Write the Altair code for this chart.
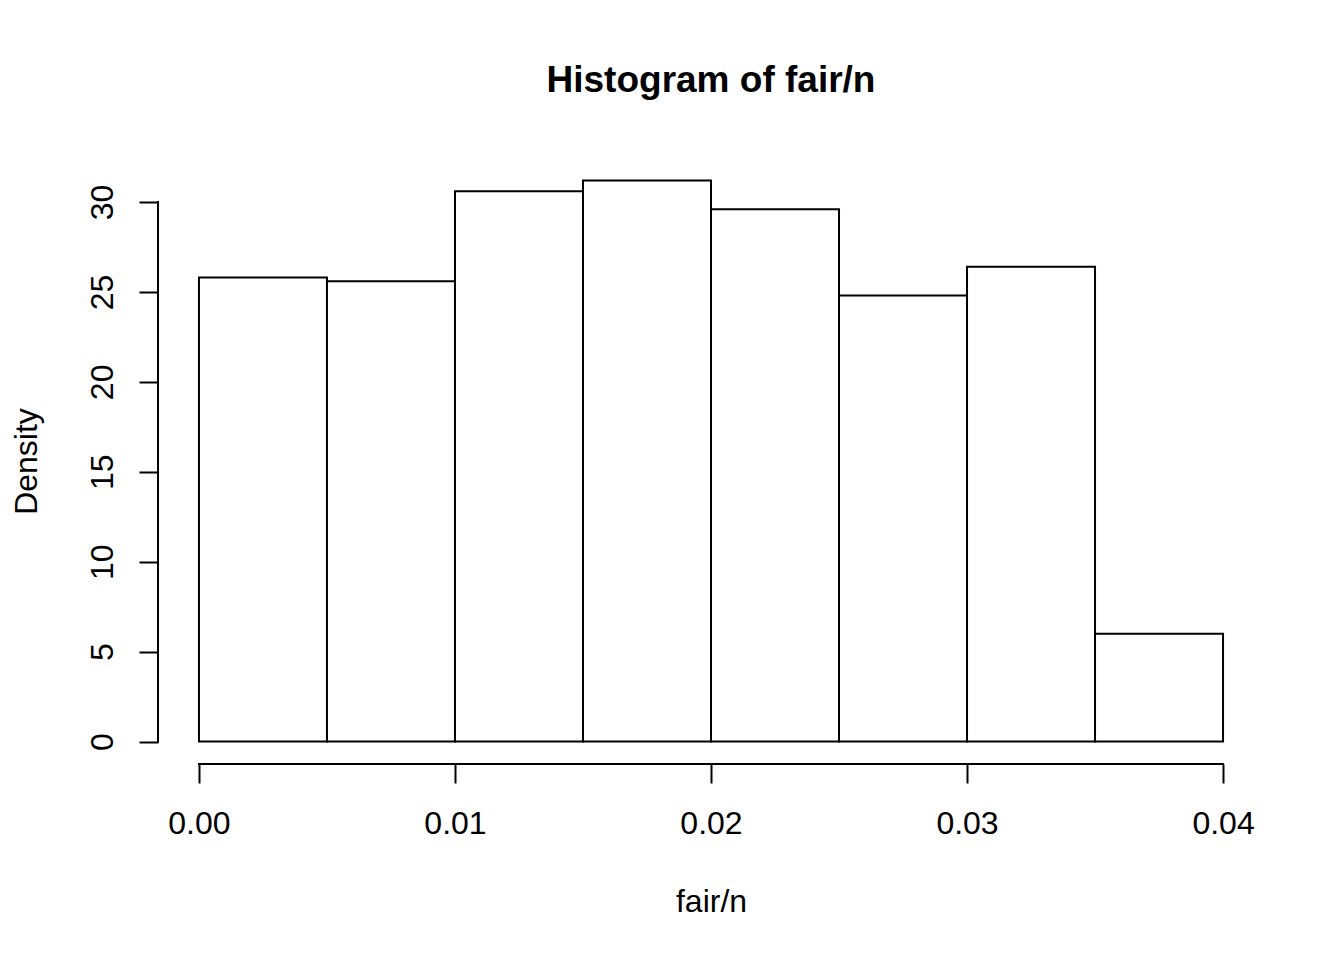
import altair as alt
import pandas as pd

bin_start = [0.000, 0.005, 0.010, 0.015, 0.020, 0.025, 0.030, 0.035]
bin_end = [0.005, 0.010, 0.015, 0.020, 0.025, 0.030, 0.035, 0.040]
density = [25.8, 25.6, 30.6, 31.2, 29.6, 24.8, 26.4, 6.0]
x_ticks = [0.00, 0.01, 0.02, 0.03, 0.04]
y_ticks = [0, 5, 10, 15, 20, 25, 30]

bars = pd.DataFrame({"start": bin_start, "end": bin_end, "density": density})
xaxis_df = pd.DataFrame({"x0": [x_ticks[0]], "x1": [x_ticks[-1]]})
yaxis_df = pd.DataFrame({"y0": [y_ticks[0]], "y1": [y_ticks[-1]]})

FONT = "Liberation Sans"
W, H = 1106, 606

xscale = alt.Scale(domain=[-0.0016, 0.0416], nice=False, zero=False)
ymax = max(density)
yscale = alt.Scale(domain=[-0.04 * ymax, ymax * 1.04], nice=False, zero=False)

xaxis = alt.Axis(
    values=x_ticks, format=".2f", domain=False, grid=False,
    tickSize=19, tickWidth=2, tickColor="black",
    labelFont=FONT, labelFontSize=32, labelColor="black",
    labelBaseline="alphabetic", labelPadding=50, labelFlush=False,
    title="fair/n", titleFont=FONT, titleFontSize=32, titleFontWeight="normal",
    titleColor="black", titleBaseline="alphabetic", titleX=W / 2, titleY=147,
    titleAlign="center",
)
yaxis = alt.Axis(
    values=y_ticks, domain=False, grid=False,
    tickSize=19, tickWidth=2, tickColor="black",
    labelFont=FONT, labelFontSize=32, labelColor="black",
    labelAngle=270, labelAlign="center", labelBaseline="alphabetic",
    labelPadding=27, labelFlush=False,
    title="Density", titleFont=FONT, titleFontSize=32, titleFontWeight="normal",
    titleColor="black", titleAngle=270, titleAlign="center",
    titleBaseline="alphabetic", titleX=-122, titleY=H / 2,
)

rects = alt.Chart(bars).mark_rect(fill="white", stroke="black", strokeWidth=2).encode(
    x=alt.X("start:Q", scale=xscale, axis=xaxis),
    x2="end:Q",
    y=alt.Y("density:Q", scale=yscale, axis=yaxis),
    y2=alt.datum(0),
)

xline = alt.Chart(xaxis_df).mark_rule(color="black", strokeWidth=2, strokeCap="square").encode(
    x=alt.X("x0:Q", scale=xscale),
    x2="x1:Q",
    y=alt.value(H),
)
yline = alt.Chart(yaxis_df).mark_rule(color="black", strokeWidth=2, strokeCap="square").encode(
    y=alt.Y("y0:Q", scale=yscale),
    y2="y1:Q",
    x=alt.value(0),
)

chart = (
    alt.layer(rects, xline, yline)
    .properties(
        width=W,
        height=H,
        view=alt.ViewBackground(strokeOpacity=0, strokeWidth=0),
        title=alt.TitleParams(
            "Histogram of fair/n", font=FONT, fontSize=37, fontWeight="bold",
            color="black", anchor="middle", frame="group",
            baseline="alphabetic", offset=29,
        ),
        autosize=alt.AutoSizeParams(type="none"),
        padding={"left": 150, "top": 150, "right": 72, "bottom": 188},
    )
    .configure_view(strokeOpacity=0, strokeWidth=0)
    .configure(background="white")
)

chart.save("out.html", embed_options={"renderer": "svg", "actions": False})
